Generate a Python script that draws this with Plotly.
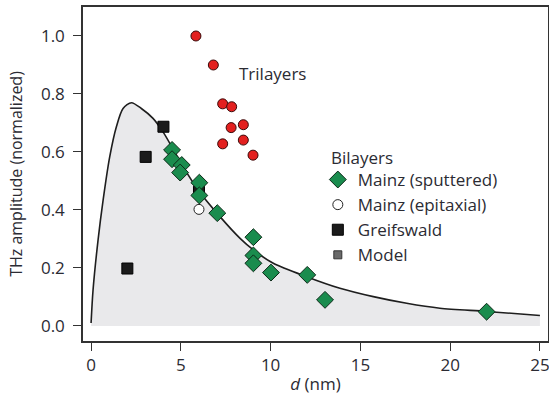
import plotly.graph_objects as go

# Model curve
model_d = [0.0, 0.11, 0.39, 0.67, 1.04, 1.41, 1.78, 2.25, 2.8, 3.45, 4.0, 5.12, 5.96,
           7.18, 8.3, 9.04, 10.15, 12.0, 13.86, 15.72, 17.58, 19.43, 22.03, 25.0]
model_v = [0.01, 0.124, 0.297, 0.434, 0.584, 0.687, 0.75, 0.77, 0.75, 0.716, 0.67, 0.55, 0.469,
           0.377, 0.302, 0.262, 0.216, 0.170, 0.130, 0.101, 0.078, 0.061, 0.050, 0.036]

# Trilayers
tri_d = [5.84, 6.81, 7.33, 7.83, 8.48, 7.8, 7.33, 8.48, 9.02]
tri_v = [1.0, 0.90, 0.766, 0.756, 0.694, 0.684, 0.628, 0.641, 0.589]

# Bilayers: Mainz (sputtered)
sp_d = [4.51, 4.51, 5.05, 4.96, 6.03, 6.03, 7.03, 9.04, 9.04, 9.04, 10.02, 12.04, 13.03, 22.03]
sp_v = [0.607, 0.575, 0.555, 0.529, 0.494, 0.45, 0.389, 0.306, 0.243, 0.216, 0.184, 0.176, 0.09, 0.049]

# Mainz (epitaxial)
ep_d = [6.01]
ep_v = [0.402]

# Greifswald
gw_d = [4.03, 3.04, 2.02, 6.01]
gw_v = [0.687, 0.583, 0.198, 0.463]

x_ticks = [0, 5, 10, 15, 20, 25]
y_ticks = [0.0, 0.2, 0.4, 0.6, 0.8, 1.0]

FONT = "Open Sans, Noto Sans, sans-serif"
TXT = "#2b2b33"

fig = go.Figure()

fig.add_trace(go.Scatter(
    x=model_d, y=model_v, mode="lines", line=dict(color="#1e1e1e", width=1.6, shape="spline", smoothing=0.8),
    fill="tozeroy", fillcolor="#e9e9eb", showlegend=False, hoverinfo="skip"))

fig.add_trace(go.Scatter(
    x=tri_d, y=tri_v, mode="markers", showlegend=False,
    marker=dict(symbol="circle", size=10, color="#e3201f", line=dict(color="#3a0a0a", width=1))))

fig.add_trace(go.Scatter(
    x=gw_d, y=gw_v, mode="markers", showlegend=False,
    marker=dict(symbol="square", size=11, color="#1b1b1b", line=dict(color="#000000", width=1))))

fig.add_trace(go.Scatter(
    x=sp_d, y=sp_v, mode="markers", name="Mainz (sputtered)", legendrank=1,
    marker=dict(symbol="diamond", size=13, color="#1a8c4e", line=dict(color="#0d2a18", width=1))))

fig.add_trace(go.Scatter(
    x=ep_d, y=ep_v, mode="markers", name="Mainz (epitaxial)", legendrank=2,
    marker=dict(symbol="circle", size=10, color="white", line=dict(color="#222222", width=1))))

# legend entries
fig.add_trace(go.Scatter(
    x=[None], y=[None], mode="markers", name="Greifswald", legendrank=3,
    marker=dict(symbol="square", size=11, color="#1b1b1b", line=dict(color="#000000", width=1))))
fig.add_trace(go.Scatter(
    x=[None], y=[None], mode="markers", name="Model", legendrank=4,
    marker=dict(symbol="square", size=8, color="#6a6a6a", line=dict(color="#333333", width=1))))

fig.add_annotation(x=10.08, y=0.869, text="Trilayers", showarrow=False,
                   font=dict(family=FONT, size=17, color=TXT))
fig.add_annotation(x=0.529, y=0.548, xref="paper", yref="paper", xanchor="left", yanchor="middle",
                   text="Bilayers", showarrow=False, font=dict(family=FONT, size=17, color=TXT))

fig.update_layout(
    width=549, height=403,
    margin=dict(l=83, r=1, t=7, b=62, autoexpand=False),
    paper_bgcolor="white", plot_bgcolor="white",
    font=dict(family=FONT, size=17, color=TXT),
    legend=dict(x=0.505, y=0.536, xanchor="left", yanchor="top",
                font=dict(size=17, color=TXT), bgcolor="rgba(0,0,0,0)",
                itemwidth=30, tracegroupgap=0),
    xaxis=dict(range=[-0.45, 25.45], tickvals=x_ticks, ticks="outside", ticklen=8,
               ticklabeloverflow="allow",
               tickcolor="#333", showline=True, linecolor="#333", linewidth=1.5, mirror=True,
               showgrid=False, zeroline=False, automargin=False,
               title=dict(text="<i>d</i> (nm)", font=dict(size=17, color=TXT), standoff=3)),
    yaxis=dict(range=[-0.052, 1.10], tickvals=y_ticks, tickformat=".1f", ticks="outside", ticklen=8,
               ticklabelstandoff=5,
               tickcolor="#333", showline=True, linecolor="#333", linewidth=1.5, mirror=True,
               showgrid=False, zeroline=False, automargin=False,
               title=dict(text="THz amplitude (normalized)", font=dict(size=16, color=TXT), standoff=14)),
)

fig.write_html("out.html", config={"displayModeBar": False},
               post_script="document.body.style.margin='0px';")
